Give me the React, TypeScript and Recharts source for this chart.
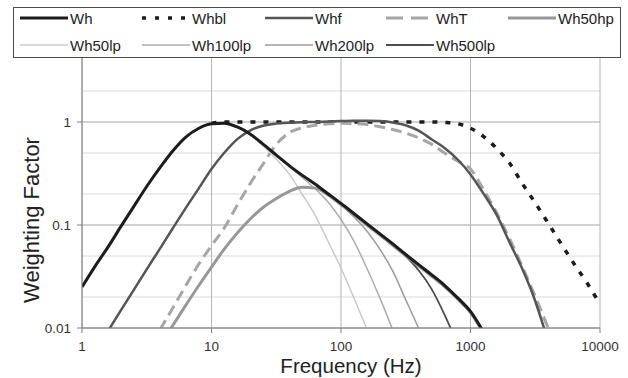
import React from 'react';
import { LineChart, Line, XAxis, YAxis, CartesianGrid, Legend } from 'recharts';

const font = '"Liberation Sans", Arial, sans-serif';

// 1/3-octave frequencies (Hz)
const freqs = [1, 1.25, 1.6, 2, 2.5, 3.15, 4, 5, 6.3, 8, 10, 12.5, 16, 20, 25, 31.5, 40, 50, 63, 80, 100, 125, 160, 200, 250, 315, 400, 500, 630, 800, 1000, 1250, 1600, 2000, 2500, 3150, 4000, 5000, 6300, 8000, 10000];

const n = null;
const wh = [0.025, 0.039, 0.062, 0.097, 0.15, 0.235, 0.36, 0.52, 0.71, 0.87, 0.96, 0.975, 0.89, 0.76, 0.61, 0.48, 0.375, 0.305, 0.25, 0.2, 0.162, 0.13, 0.102, 0.082, 0.066, 0.052, 0.041, 0.033, 0.026, 0.0195, 0.0145, 0.0093, n, n, n, n, n, n, n, n, n];
const whbl = [n, n, n, n, n, n, n, n, n, n, 0.97, 1.0, 1.0, 1.0, 1.0, 1.0, 1.0, 1.0, 1.0, 1.0, 1.0, 1.0, 1.0, 1.0, 1.0, 1.0, 1.0, 1.0, 0.99, 0.96, 0.87, 0.73, 0.55, 0.4, 0.255, 0.165, 0.103, 0.066, 0.042, 0.027, 0.017];
const whf = [n, n, 0.0095, 0.0149, 0.0232, 0.0369, 0.059, 0.092, 0.145, 0.228, 0.35, 0.5, 0.69, 0.83, 0.92, 0.965, 0.985, 0.995, 1.0, 1.01, 1.02, 1.03, 1.03, 1.02, 0.99, 0.93, 0.82, 0.68, 0.56, 0.43, 0.31, 0.205, 0.124, 0.068, 0.038, 0.0185, 0.0072, n, n, n, n];
const whT = [n, n, n, n, n, n, 0.0096, 0.0155, 0.0255, 0.042, 0.063, 0.093, 0.16, 0.255, 0.39, 0.6, 0.79, 0.88, 0.93, 0.96, 0.97, 0.965, 0.945, 0.9, 0.845, 0.78, 0.7, 0.61, 0.5, 0.415, 0.35, 0.225, 0.13, 0.074, 0.04, 0.0205, 0.0098, n, n, n, n];
const wh50hp = [n, n, n, n, n, n, 0.0068, 0.0105, 0.0165, 0.026, 0.039, 0.058, 0.085, 0.115, 0.148, 0.18, 0.212, 0.232, 0.228, 0.195, 0.158, 0.127, 0.099, 0.08, 0.064, 0.0505, 0.04, 0.032, 0.0252, 0.019, 0.0141, 0.0091, n, n, n, n, n, n, n, n, n];
const wh50lp = [n, n, n, n, n, n, n, n, n, n, n, n, 0.89, 0.75, 0.59, 0.44, 0.31, 0.2, 0.125, 0.068, 0.038, 0.02, 0.0095, n, n, n, n, n, n, n, n, n, n, n, n, n, n, n, n, n, n];
const wh100lp = [n, n, n, n, n, n, n, n, n, n, n, n, n, n, n, 0.48, 0.37, 0.29, 0.225, 0.165, 0.113, 0.071, 0.037, 0.0195, 0.0097, n, n, n, n, n, n, n, n, n, n, n, n, n, n, n, n];
const wh200lp = [n, n, n, n, n, n, n, n, n, n, n, n, n, n, n, n, n, n, 0.25, 0.198, 0.157, 0.121, 0.086, 0.058, 0.036, 0.019, 0.0098, n, n, n, n, n, n, n, n, n, n, n, n, n, n];
const wh500lp = [n, n, n, n, n, n, n, n, n, n, n, n, n, n, n, n, n, n, n, n, n, n, 0.102, 0.081, 0.065, 0.05, 0.036, 0.024, 0.0135, 0.0068, n, n, n, n, n, n, n, n, n, n, n];

const xTicks = [1, 10, 100, 1000, 10000];
const yTicks = [0.01, 0.1, 1];
const gridValues = [0.02, 0.03, 0.04, 0.05, 0.06, 0.07, 0.08, 0.09, 0.1, 0.2, 0.3, 0.4, 0.5, 0.6, 0.7, 0.8, 0.9, 1, 2, 3, 4, 5, 6, 7, 8, 9, 10];

// legend order
const series = [
  { key: 'Wh', values: wh, color: '#1c1c1c', width: 3 },
  { key: 'Whbl', values: whbl, color: '#1c1c1c', width: 3.5, dash: '5 8', legendDash: '4 9' },
  { key: 'Whf', values: whf, color: '#555555', width: 2.5 },
  { key: 'WhT', values: whT, color: '#a6a6a6', width: 3, dash: '11 6', legendDash: '17 8' },
  { key: 'Wh50hp', values: wh50hp, color: '#989898', width: 3 },
  { key: 'Wh50lp', values: wh50lp, color: '#cacaca', width: 1.5 },
  { key: 'Wh100lp', values: wh100lp, color: '#adadad', width: 1.5 },
  { key: 'Wh200lp', values: wh200lp, color: '#9c9c9c', width: 1.5 },
  { key: 'Wh500lp', values: wh500lp, color: '#4d4d4d', width: 1.8 },
];

// drawing order (Wh on top)
const drawOrder = ['Whbl', 'WhT', 'Whf', 'Wh50lp', 'Wh100lp', 'Wh200lp', 'Wh500lp', 'Wh50hp', 'Wh'];

const data = freqs.map((f, i) => {
  const row: Record<string, number | null> = { f };
  series.forEach(s => { row[s.key] = s.values[i]; });
  return row;
});

const legendCols = [6, 128, 251, 372, 494];

const LegendBox = () => (
  <div style={{ position: 'relative', width: 608, height: 51, border: '1px solid #4d4d4d', background: '#fff', boxSizing: 'border-box', fontFamily: font, fontSize: 15, color: '#222' }}>
    {series.map((s, i) => {
      const row = i < 5 ? 0 : 1;
      const col = i < 5 ? i : i - 5;
      return (
        <div key={s.key} style={{ position: 'absolute', left: legendCols[col], top: row === 0 ? 0 : 27, height: 20, display: 'flex', alignItems: 'center', whiteSpace: 'nowrap' }}>
          <svg width={48} height={8} style={{ display: 'block' }}>
            <line x1={0} y1={4} x2={48} y2={4} stroke={s.color} strokeWidth={s.width} strokeDasharray={s.legendDash} />
          </svg>
          <span style={{ marginLeft: 2 }}>{s.key}</span>
        </div>
      );
    })}
  </div>
);

const XTitle = () => (
  <text x={351} y={373} textAnchor="middle" fontFamily={font} fontSize={20.5} fill="#222">Frequency (Hz)</text>
);

const YTitle = () => (
  <text x={39} y={220} transform="rotate(-90 39 220)" textAnchor="middle" fontFamily={font} fontSize={22} fill="#222">Weighting Factor</text>
);

export default function App() {
  return (
    <div style={{ position: 'absolute', left: 0, top: 0, width: 628, height: 378, background: '#fff' }}>
      <LineChart width={628} height={378} data={data} margin={{ top: 19, right: 28, bottom: 0, left: 0 }}>
        <CartesianGrid yAxisId="minor" vertical={false} stroke="#dadada" />
        <CartesianGrid stroke="#b5b5b5" />
        <XAxis
          dataKey="f"
          type="number"
          scale="log"
          domain={[1, 10000]}
          ticks={xTicks}
          allowDataOverflow
          height={50}
          stroke="#808080"
          tickSize={5}
          tickMargin={8}
          tick={{ fontSize: 13.5, fill: '#333', fontFamily: font }}
          label={<XTitle />}
        />
        <YAxis
          type="number"
          scale="log"
          domain={[0.01, 10]}
          ticks={yTicks}
          allowDataOverflow
          width={82}
          stroke="#808080"
          tickSize={5}
          tickMargin={6}
          tick={{ fontSize: 13.5, fill: '#333', fontFamily: font }}
          label={<YTitle />}
        />
        <YAxis yAxisId="minor" hide type="number" scale="log" domain={[0.01, 10]} ticks={gridValues} allowDataOverflow />
        <Legend
          content={<LegendBox />}
          layout="horizontal"
          verticalAlign="middle"
          align="center"
          wrapperStyle={{ top: 7, left: 13, width: 608, height: 51 }}
        />
        {drawOrder.map(k => {
          const s = series.find(x => x.key === k)!;
          return (
            <Line
              key={k}
              dataKey={k}
              type="monotone"
              stroke={s.color}
              strokeWidth={s.width}
              strokeDasharray={s.dash}
              dot={false}
              activeDot={false}
              connectNulls={false}
              isAnimationActive={false}
            />
          );
        })}
      </LineChart>
    </div>
  );
}
